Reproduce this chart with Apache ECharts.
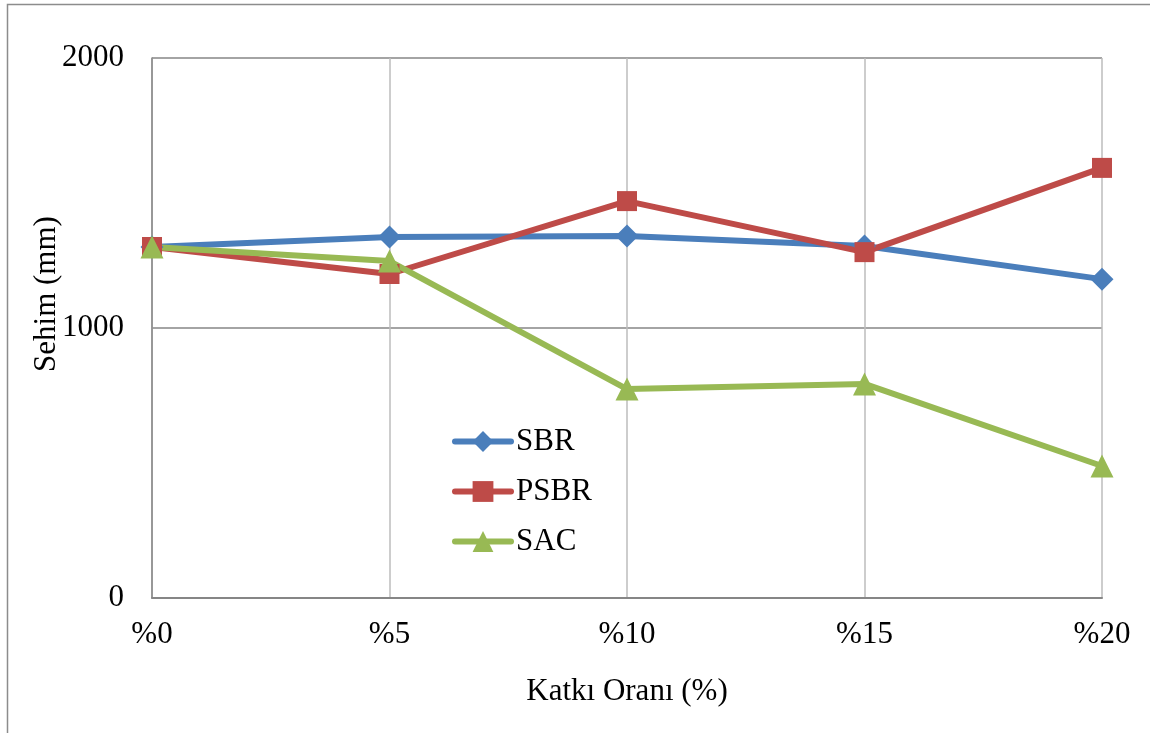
<!DOCTYPE html>
<html>
<head>
<meta charset="utf-8">
<script src="https://cdn.jsdelivr.net/npm/echarts@6/dist/echarts.min.js"></script>
<style>
  html, body { margin: 0; padding: 0; background: #fff; }
  #chart { width: 1150px; height: 733px; }
</style>
</head>
<body>
<div id="chart"></div>
<script>
// Deflection (Sehim) versus additive ratio for three modifiers
const categories = ['%0', '%5', '%10', '%15', '%20'];
const sbrValues  = [1300, 1337, 1341, 1304, 1181];
const psbrValues = [1300, 1200, 1470, 1281, 1593];
const sacValues  = [1300, 1248, 774, 793, 489];
const yTicks = [0, 1000, 2000];

const FONT = '"Liberation Serif", "Times New Roman", serif';

const chart = echarts.init(document.getElementById('chart'));

function lineSeries(name, data, color, symbol, size) {
  return {
    name: name,
    type: 'line',
    data: data,
    symbol: symbol,
    symbolSize: size,
    lineStyle: { color: color, width: 6, cap: 'round' },
    itemStyle: { color: color },
    emphasis: { disabled: true },
    z: 3
  };
}

chart.setOption({
  animation: false,
  backgroundColor: '#ffffff',
  graphic: [{
    type: 'rect',
    shape: { x: 7.5, y: 4.5, width: 1160, height: 740 },
    style: { fill: 'none', stroke: '#8c8c8c', lineWidth: 1.5 },
    silent: true
  }],
  grid: { left: 152, right: 48, top: 58, bottom: 135, containLabel: false },
  legend: {
    orient: 'vertical',
    left: 447,
    top: 421,
    itemWidth: 56,
    itemHeight: 26,
    itemGap: 19,
    lineStyle: { width: 6, cap: 'round' },
    textStyle: { fontFamily: FONT, fontSize: 31, color: '#000' },
    data: ['SBR', 'PSBR', 'SAC']
  },
  xAxis: {
    type: 'category',
    data: categories,
    boundaryGap: false,
    name: 'Katkı Oranı (%)',
    nameLocation: 'middle',
    nameGap: 78,
    nameMoveOverlap: false,
    nameTextStyle: { fontFamily: FONT, fontSize: 31, color: '#000' },
    axisLine: { lineStyle: { color: '#868686', width: 2 } },
    axisTick: { show: false },
    axisLabel: { fontFamily: FONT, fontSize: 31, color: '#000', margin: 21 },
    splitLine: { show: true, lineStyle: { color: '#bdbdbd', width: 1.5 } }
  },
  yAxis: {
    type: 'value',
    min: yTicks[0],
    max: yTicks[yTicks.length - 1],
    interval: 1000,
    name: 'Sehim (mm)',
    nameLocation: 'middle',
    nameGap: 90,
    nameRotate: 90,
    nameMoveOverlap: false,
    nameTextStyle: { fontFamily: FONT, fontSize: 31, color: '#000', padding: [0, 0, 0, 68] },
    axisLine: { show: true, lineStyle: { color: '#868686', width: 1.5 } },
    axisTick: { show: false },
    axisLabel: {
      fontFamily: FONT, fontSize: 31, color: '#000', margin: 28,
      formatter: function (v) { return String(v); }
    },
    splitLine: { show: true, lineStyle: { color: '#868686', width: 1.5 } }
  },
  series: [
    lineSeries('SBR', sbrValues, '#4a7ebb', 'diamond', 23),
    lineSeries('PSBR', psbrValues, '#be4b48', 'rect', 20),
    lineSeries('SAC', sacValues, '#98b954', 'triangle', 23)
  ]
});
</script>
</body>
</html>
